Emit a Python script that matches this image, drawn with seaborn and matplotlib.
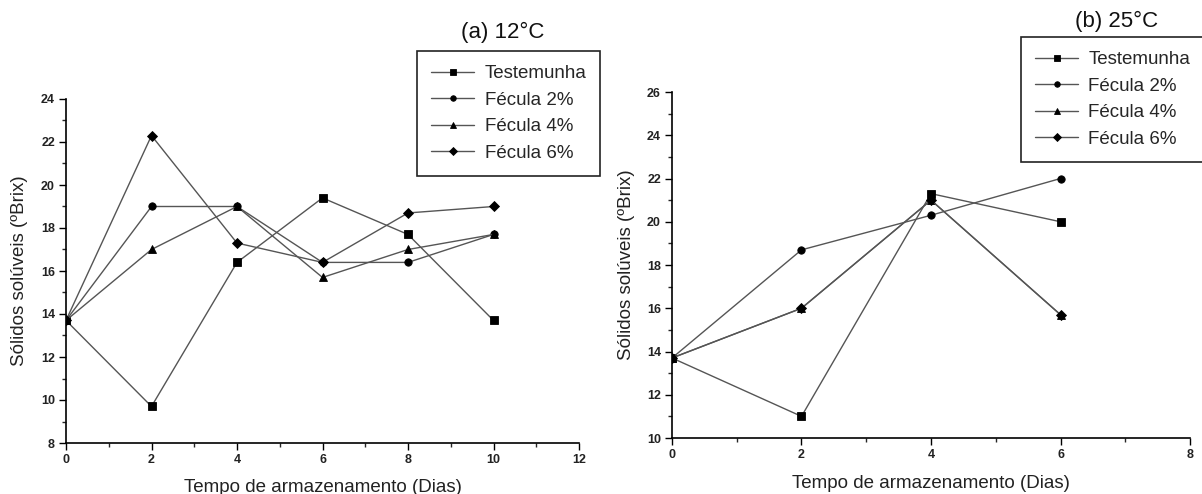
import matplotlib
matplotlib.use("Agg")
import matplotlib.pyplot as plt
from matplotlib.ticker import MultipleLocator
import pandas as pd
import seaborn as sns

# dados
amostras = ["Testemunha", "Fécula 2%", "Fécula 4%", "Fécula 6%"]
marcadores = ["s", "o", "^", "D"]

dias_12 = [0, 2, 4, 6, 8, 10]
testemunha_12 = [13.7, 9.7, 16.4, 19.4, 17.7, 13.7]
fecula2_12 = [13.7, 19.0, 19.0, 16.4, 16.4, 17.7]
fecula4_12 = [13.7, 17.0, 19.0, 15.7, 17.0, 17.7]
fecula6_12 = [13.7, 22.3, 17.3, 16.4, 18.7, 19.0]

dias_25 = [0, 2, 4, 6]
testemunha_25 = [13.7, 11.0, 21.3, 20.0]
fecula2_25 = [13.7, 18.7, 20.3, 22.0]
fecula4_25 = [13.7, 16.0, 21.0, 15.7]
fecula6_25 = [13.7, 16.0, 21.0, 15.7]


def montar_df(dias, series):
    linhas = []
    for nome, valores in zip(amostras, series):
        for d, v in zip(dias, valores):
            linhas.append({"dia": d, "valor": v, "amostra": nome})
    return pd.DataFrame(linhas)


df12 = montar_df(dias_12, [testemunha_12, fecula2_12, fecula4_12, fecula6_12])
df25 = montar_df(dias_25, [testemunha_25, fecula2_25, fecula4_25, fecula6_25])

sns.set_style("ticks")
plt.rcParams["font.family"] = ["Liberation Sans", "DejaVu Sans"]

fig = plt.figure(figsize=(12.02, 4.94), dpi=100)
ax1 = fig.add_axes([66 / 1202, 1 - 443 / 494, 513 / 1202, 344 / 494])
ax2 = fig.add_axes([672 / 1202, 1 - 438 / 494, 518 / 1202, 346 / 494])


def desenhar(ax, df, xmax, ymin, ymax, titulo, pos_titulo, pos_leg):
    sns.lineplot(data=df, x="dia", y="valor", style="amostra", markers=marcadores,
                 dashes=False, color="#555555", linewidth=1, markersize=5.3,
                 markerfacecolor="black", markeredgecolor="black", markeredgewidth=0.6,
                 ax=ax, legend=True)
    ax.set_xlim(0, xmax)
    ax.set_ylim(ymin, ymax)
    ax.xaxis.set_major_locator(MultipleLocator(2))
    ax.xaxis.set_minor_locator(MultipleLocator(1))
    ax.yaxis.set_major_locator(MultipleLocator(2))
    ax.yaxis.set_minor_locator(MultipleLocator(1))
    ax.tick_params(which="major", length=5, width=1, direction="out", labelsize=9, colors="black",
                   labelcolor="#222222", pad=3)
    ax.tick_params(which="minor", length=3, width=1, direction="out")
    for lab in ax.get_xticklabels() + ax.get_yticklabels():
        lab.set_fontweight("bold")
    for s in ["top", "right"]:
        ax.spines[s].set_visible(False)
    for s in ["left", "bottom"]:
        ax.spines[s].set_linewidth(1.2)
        ax.spines[s].set_color("black")
    ax.set_xlabel("Tempo de armazenamento (Dias)", fontsize=13.5, color="#222222")
    ax.set_ylabel("Sólidos solúveis (ºBrix)", fontsize=13.5, color="#222222")
    ax.xaxis.label.set_va("center")
    ax.yaxis.label.set_va("center")

    handles, labels = ax.get_legend_handles_labels()
    ax.legend(handles, labels, loc="upper left", bbox_to_anchor=pos_leg,
              bbox_transform=fig.transFigure, fontsize=13.5, frameon=True, fancybox=False,
              edgecolor="#222222", framealpha=1, handlelength=2.3, handletextpad=0.55,
              labelspacing=0.5, borderpad=0.75, markerscale=0.75, borderaxespad=0)
    ax.get_legend().get_frame().set_linewidth(1.2)
    fig.text(pos_titulo[0], pos_titulo[1], titulo, fontsize=16, ha="center", va="center",
             color="#111111")


desenhar(ax1, df12, 12, 8, 24, "(a) 12°C", (503 / 1202, 1 - 32 / 494), (417 / 1202, 1 - 51 / 494))
ax1.xaxis.set_label_coords(0.5, (443 - 487) / 344)
ax1.yaxis.set_label_coords((20 - 66) / 513, 0.5)

desenhar(ax2, df25, 8, 10, 26, "(b) 25°C", (1117 / 1202, 1 - 21 / 494), (1021 / 1202, 1 - 37 / 494))
ax2.xaxis.set_label_coords(0.5, (438 - 483) / 346)
ax2.yaxis.set_label_coords((627 - 672) / 518, 0.5)

fig.savefig("out.png", dpi=100)
